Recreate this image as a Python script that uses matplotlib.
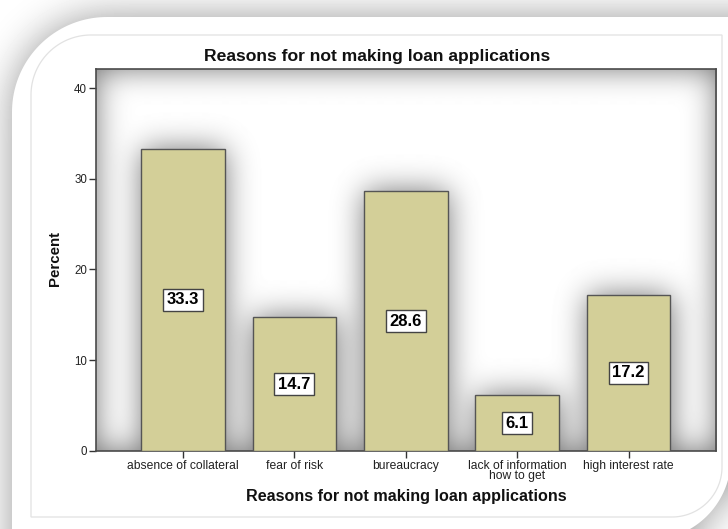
import numpy as np
import matplotlib
matplotlib.use("Agg")
import matplotlib.pyplot as plt
from matplotlib.path import Path
import matplotlib.patches as mpatches

plt.rcParams["font.family"] = ["Liberation Sans", "DejaVu Sans"]

# ---- data ----
categories = [
    "absence of collateral",
    "fear of risk",
    "bureaucracy",
    "lack of information\nhow to get",
    "high interest rate",
]
percent = [33.3, 14.7, 28.6, 6.1, 17.2]
value_labels = ["33.3", "14.7", "28.6", "6.1", "17.2"]
y_ticks = [0, 10, 20, 30, 40]
title_text = "Reasons for not making loan applications"
x_title = "Reasons for not making loan applications"
y_title = "Percent"

W, H = 728, 529
fig = plt.figure(figsize=(W / 100, H / 100), dpi=100)
fig.patch.set_facecolor("white")


def gblur(a, sigma, pad_mode="edge", pad_value=0.0):
    r = int(3 * sigma)
    if pad_mode == "constant":
        a = np.pad(a, r, mode="constant", constant_values=pad_value)
    else:
        a = np.pad(a, r, mode=pad_mode)
    t = np.arange(-r, r + 1)
    k = np.exp(-0.5 * (t / sigma) ** 2)
    k /= k.sum()
    a = np.apply_along_axis(lambda v: np.convolve(v, k, mode="same"), 0, a)
    a = np.apply_along_axis(lambda v: np.convolve(v, k, mode="same"), 1, a)
    return a[r:-r, r:-r]


def panel_path(x0, y0, x1, y1, r_tl, r_br, n=48):
    """Rectangle (pixel coords, y down) with rounded top-left and bottom-right corners."""
    t = np.linspace(np.pi, 1.5 * np.pi, n)
    tl = np.column_stack([x0 + r_tl + r_tl * np.cos(t), y0 + r_tl + r_tl * np.sin(t)])
    t = np.linspace(0, 0.5 * np.pi, n)
    br = np.column_stack([x1 - r_br + r_br * np.cos(t), y1 - r_br + r_br * np.sin(t)])
    verts = np.vstack([tl, [[x1, y0]], br, [[x0, y1]], tl[:1]])
    return Path(verts, closed=True)


# ---- page background: white card with a soft shadow ----
bg = fig.add_axes([0, 0, 1, 1], zorder=-10)
bg.set_xlim(0, W)
bg.set_ylim(H, 0)
bg.axis("off")

card = panel_path(12, 17, 731, 540, 95, 82)
gx, gy = np.meshgrid(np.arange(W) + 0.5, np.arange(H) + 0.5)
mask = card.contains_points(np.column_stack([gx.ravel(), gy.ravel()])).reshape(H, W).astype(float)
shadow = 1 - 0.4 * gblur(mask, 20)
bg.imshow(shadow, cmap="gray", vmin=0, vmax=1, extent=[0, W, H, 0],
          interpolation="bilinear", aspect="auto")
bg.add_patch(mpatches.PathPatch(card, facecolor="white", edgecolor="none"))
frame = panel_path(31, 35, 722, 517, 60, 50)
bg.add_patch(mpatches.PathPatch(frame, facecolor="none", edgecolor="#e2e2e2", lw=0.9))
bg.set_xlim(0, W)
bg.set_ylim(H, 0)

# ---- chart ----
left, right, top, bottom = 95.5, 716, 69, 450.7
ax = fig.add_axes([left / W, 1 - bottom / H, (right - left) / W, (bottom - top) / H])
ax.set_facecolor("white")

x = np.arange(len(categories))
bars = ax.bar(x, percent, width=0.75, color="#d3cf98", edgecolor="#555555",
              linewidth=1.0, zorder=3)
xlim = (-0.785, len(categories) - 1 + 0.785)
ylim = (0, 42.1)
ax.set_xlim(*xlim)
ax.set_ylim(*ylim)

for xi, v, s in zip(x, percent, value_labels):
    ax.text(xi, v / 2, s, ha="center", va="center", fontsize=12, fontweight="bold",
            color="black", zorder=6,
            bbox=dict(boxstyle="square,pad=0.22", fc="white", ec="#444444", lw=1))

ax.set_yticks(y_ticks)
ax.set_xticks(x)
ax.set_xticklabels(categories, fontsize=8.7, color="#222222", linespacing=0.8)
ax.tick_params(axis="y", length=5, width=1, color="#333333", labelsize=8.3,
               labelcolor="#222222", pad=1)
ax.tick_params(axis="x", length=5, width=1, color="#333333", pad=1.5)
for s in ax.spines.values():
    s.set_color("#4a4a4a")
    s.set_linewidth(1.2)

fig.text(377 / W, 1 - 57 / H, title_text, ha="center", va="center",
         fontsize=12.6, fontweight="bold", color="#111111")
fig.text(406 / W, 1 - 497 / H, x_title, ha="center", va="center",
         fontsize=11.6, fontweight="bold", color="#111111")
fig.text(55 / W, 1 - 259 / H, y_title, ha="center", va="center", rotation=90,
         fontsize=10.8, fontweight="bold", color="#111111")

# ---- shaded plot background: glow darkened by the frame and the bars ----
fig.canvas.draw()
abb = ax.get_window_extent()
Wa, Ha = int(round(abb.width)), int(round(abb.height))
occ = np.zeros((Ha, Wa))
for b in bars:
    bb = b.get_window_extent()
    c0 = int(round(bb.x0 - abb.x0)); c1 = int(round(bb.x1 - abb.x0))
    r0 = int(round(abb.y1 - bb.y1)); r1 = int(round(abb.y1 - bb.y0))
    occ[max(r0, 0):r1, max(c0, 0):c1] = 1
shade = 1 - 0.55 * gblur(occ, 15, pad_mode="constant", pad_value=1.0)
ax.imshow(shade, cmap="gray", vmin=0, vmax=1, origin="upper", aspect="auto",
          extent=[xlim[0], xlim[1], ylim[0], ylim[1]], zorder=0,
          interpolation="bilinear")
ax.set_xlim(*xlim)
ax.set_ylim(*ylim)

fig.savefig("out.png", dpi=100)
